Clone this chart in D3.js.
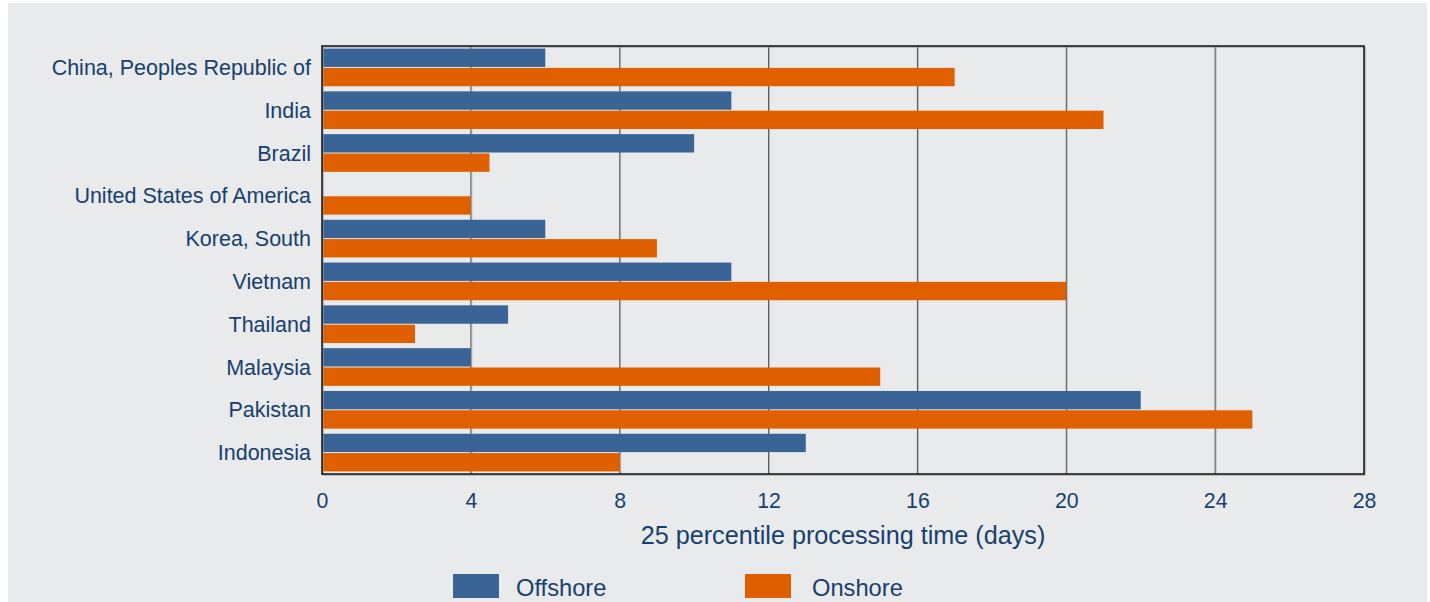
<!DOCTYPE html>
<html>
<head>
<meta charset="utf-8">
<script src="https://cdn.jsdelivr.net/npm/d3@7"></script>
<style>
  body { margin: 0; background: #fff; }
  svg text { font-family: "Liberation Sans", Arial, sans-serif; fill: #17406d; }
</style>
</head>
<body>
<div class="app"></div>
<script>
'use strict'

// categories, top to bottom
var countries = [
  "China, Peoples Republic of",
  "India",
  "Brazil",
  "United States of America",
  "Korea, South",
  "Vietnam",
  "Thailand",
  "Malaysia",
  "Pakistan",
  "Indonesia"
];

var offshore = [6, 11, 10, 0, 6, 11, 5, 4, 22, 13];
var onshore = [17, 21, 4.5, 4, 9, 20, 2.5, 15, 25, 8];

var seriesNames = ["Offshore", "Onshore"];
var xTicks = [0, 4, 8, 12, 16, 20, 24, 28];
var xTitle = "25 percentile processing time (days)";

var colors = {Offshore: "#3a6496", Onshore: "#e06000"};

var W = 1430, H = 602;
var margin = {top: 46, right: 66, bottom: 128, left: 322};
var width = 1364 - margin.left;
var height = 474 - margin.top;

var svg = d3.select(".app").append("svg")
  .attr("width", W)
  .attr("height", H);

// gray panel
svg.append("rect")
  .attr("x", 8).attr("y", 3)
  .attr("width", 1419).attr("height", H - 3)
  .attr("fill", "#e9eaec");

var x = d3.scaleLinear().domain([0, 28]).range([0, width]);
var y = d3.scaleBand().domain(countries).range([0, height]).paddingInner(0.12).paddingOuter(0.06);
var ySub = d3.scaleBand().domain(seriesNames).range([0, y.bandwidth()]).paddingInner(0.05);

var g = svg.append("g")
  .attr("transform", "translate(" + margin.left + "," + margin.top + ")");

// grid lines (with faint shadow)
g.selectAll(".grid-shadow").data(xTicks.slice(1, -1)).enter()
  .append("line")
  .attr("x1", function(d) { return x(d) + 1; })
  .attr("x2", function(d) { return x(d) + 1; })
  .attr("y1", 0).attr("y2", height)
  .attr("stroke", "#b8b9bc").attr("stroke-width", 1);

g.selectAll(".grid").data(xTicks.slice(1, -1)).enter()
  .append("line")
  .attr("x1", function(d) { return x(d); })
  .attr("x2", function(d) { return x(d); })
  .attr("y1", 0).attr("y2", height)
  .attr("stroke", "#555").attr("stroke-width", 1);

// bars
var rows = countries.map(function(c, i) {
  return {country: c, values: [
    {name: "Offshore", value: offshore[i]},
    {name: "Onshore", value: onshore[i]}
  ]};
});

var groups = g.selectAll(".row").data(rows).enter()
  .append("g")
  .attr("transform", function(d) { return "translate(0," + y(d.country) + ")"; });

groups.selectAll("rect").data(function(d) { return d.values; }).enter()
  .append("rect")
  .attr("x", x(0))
  .attr("y", function(d) { return ySub(d.name); })
  .attr("width", function(d) { return x(d.value) - x(0); })
  .attr("height", ySub.bandwidth())
  .attr("fill", function(d) { return colors[d.name]; });

// frame with shadow
g.append("rect")
  .attr("x", 1).attr("y", 1)
  .attr("width", width).attr("height", height)
  .attr("fill", "none").attr("stroke", "#9c9da0").attr("stroke-width", 1.2);
g.append("rect")
  .attr("x", 0).attr("y", 0)
  .attr("width", width).attr("height", height)
  .attr("fill", "none").attr("stroke", "#111").attr("stroke-width", 1.5);

// y labels
g.selectAll(".ylab").data(countries).enter()
  .append("text")
  .attr("x", -11)
  .attr("y", function(d) { return y(d) + y.bandwidth() / 2; })
  .attr("dy", "0.35em")
  .attr("text-anchor", "end")
  .style("font-size", "21.5px")
  .text(function(d) { return d; });

// x axis labels
var xAxis = d3.axisBottom(x).tickValues(xTicks).tickSize(0).tickPadding(18.5);
var ax = g.append("g")
  .attr("transform", "translate(0," + height + ")")
  .call(xAxis);
ax.select(".domain").remove();
ax.selectAll("text")
  .style("font-size", "21.3px")
  .style("font-family", "\"Liberation Sans\", Arial, sans-serif")
  .attr("fill", "#17406d");

// axis title
svg.append("text")
  .attr("x", margin.left + width / 2)
  .attr("y", 544)
  .attr("text-anchor", "middle")
  .style("font-size", "25.2px")
  .text(xTitle);

// legend
var legendX = [453, 745];
var legendTextX = [63, 67];
var legend = svg.selectAll(".legend").data(seriesNames).enter()
  .append("g")
  .attr("transform", function(d, i) { return "translate(" + legendX[i] + ",574)"; });

legend.append("rect")
  .attr("width", 46).attr("height", 24)
  .attr("fill", function(d) { return colors[d]; });

legend.append("text")
  .attr("x", function(d, i) { return legendTextX[i]; })
  .attr("y", 22)
  .style("font-size", "23.7px")
  .text(function(d) { return d; });
</script>
</body>
</html>
